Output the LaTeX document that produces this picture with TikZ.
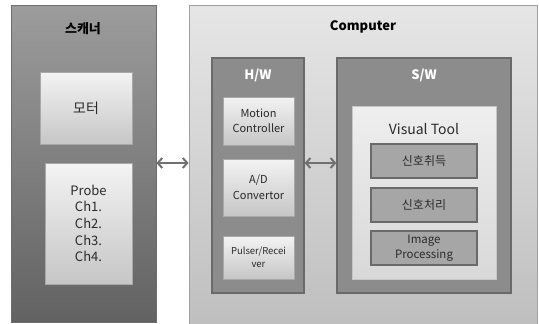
\documentclass[tikz,border=0pt]{standalone}
\usepackage{fontspec}
\setmainfont{Noto Sans CJK KR}
\usetikzlibrary{arrows.meta,shadows}
\definecolor{scanTop}{HTML}{9C9C9C}
\definecolor{scanBot}{HTML}{626262}
\definecolor{compTop}{HTML}{E6E6E6}
\definecolor{compBot}{HTML}{BEBEBE}
\definecolor{grpFill}{HTML}{8C8C8C}
\definecolor{grpLine}{HTML}{6A6A6A}
\definecolor{lightTop}{HTML}{F3F3F3}
\definecolor{lightBot}{HTML}{C6C6C6}
\definecolor{subFill}{HTML}{A6A6A6}
\definecolor{arrowCol}{HTML}{707070}
\definecolor{txt}{HTML}{2A2A2A}
\tikzset{
  outerbox/.style={draw=#1, line width=0.8pt, inner sep=0pt},
  grpbox/.style={draw=grpLine, fill=grpFill, line width=1.2pt, inner sep=0pt},
  lightbox/.style={draw=lightBot!85!black, line width=0.6pt, top color=lightTop, bottom color=lightBot,
     inner sep=0pt, align=center, text=txt,
     drop shadow={shadow xshift=1.2pt, shadow yshift=-1.2pt, opacity=0.35, fill=black}},
  subbox/.style={draw=grpLine, fill=subFill, line width=1.1pt, inner sep=0pt, align=center, text=txt},
  title/.style={font=\bfseries\fontsize{13}{15}\selectfont},
  link/.style={draw=arrowCol, line width=2pt, {Straight Barb[length=4.5pt,width=10pt]}-{Straight Barb[length=4.5pt,width=10pt]}}
}
\begin{document}
\begin{tikzpicture}[x=1pt,y=-1pt]
\useasboundingbox (0,0) rectangle (539,324);
% outer containers
\node[outerbox=scanTop!70!black, top color=scanTop, bottom color=scanBot, minimum width=145pt, minimum height=317pt] (scanner) at (83.5,163.5) {};
\node[outerbox=compBot!85!black, top color=compTop, bottom color=compBot, minimum width=348pt, minimum height=325pt] (computer) at (363,167.5) {};
\node[title] (scantitle) at (83,29) {스캐너};
\node[title] (comptitle) at (363,27) {Computer};
% scanner contents
\node[lightbox, minimum width=92pt, minimum height=72pt, font=\fontsize{14}{16}\selectfont] (motor) at (86,108) {모터};
\node[lightbox, minimum width=87pt, minimum height=121pt, font=\fontsize{13}{16.6}\selectfont] (probe) at (88.5,223.5) {Probe\\Ch1.\\Ch2.\\Ch3.\\Ch4.};
% H/W
\node[grpbox, minimum width=92pt, minimum height=235pt] (hw) at (258,175.5) {};
\node[title, text=white] (hwtitle) at (258,75) {H/W};
\node[lightbox, minimum width=71pt, minimum height=48pt, font=\fontsize{11}{15}\selectfont] (motion) at (258.5,121) {Motion\\Controller};
\node[lightbox, minimum width=71pt, minimum height=57pt, font=\fontsize{11}{16}\selectfont] (ad) at (258.5,187.5) {A/D\\Convertor};
\node[lightbox, minimum width=71pt, minimum height=43pt, font=\fontsize{9.5}{12.5}\selectfont] (pulser) at (258.5,257.5) {Pulser/Recei\\ver};
% S/W
\node[grpbox, minimum width=174pt, minimum height=235pt] (sw) at (424,175.5) {};
\node[title, text=white] (swtitle) at (424,75) {S/W};
\node[draw=lightBot, line width=0.6pt, top color=lightTop!90!lightBot, bottom color=lightBot!60!lightTop, minimum width=144pt, minimum height=173pt,
      drop shadow={shadow xshift=1.2pt, shadow yshift=-1.2pt, opacity=0.35, fill=black}] (vt) at (424,192.5) {};
\node[text=txt, font=\fontsize{14}{16}\selectfont] (vttitle) at (424,129) {Visual Tool};
\node[subbox, minimum width=106pt, minimum height=34pt, font=\fontsize{12}{14}\selectfont] (acq) at (424,161) {신호취득};
\node[subbox, minimum width=106pt, minimum height=34pt, font=\fontsize{12}{14}\selectfont] (proc) at (424,205) {신호처리};
\node[subbox, minimum width=106pt, minimum height=34pt, font=\fontsize{11.5}{15}\selectfont] (img) at (424,248) {Image\\Processing};
% connectors
\draw[link] (scanner.east |- 0,163) -- (computer.west |- 0,163);
\draw[link] (hw.east |- 0,163) -- (sw.west |- 0,163);
\end{tikzpicture}
\end{document}
